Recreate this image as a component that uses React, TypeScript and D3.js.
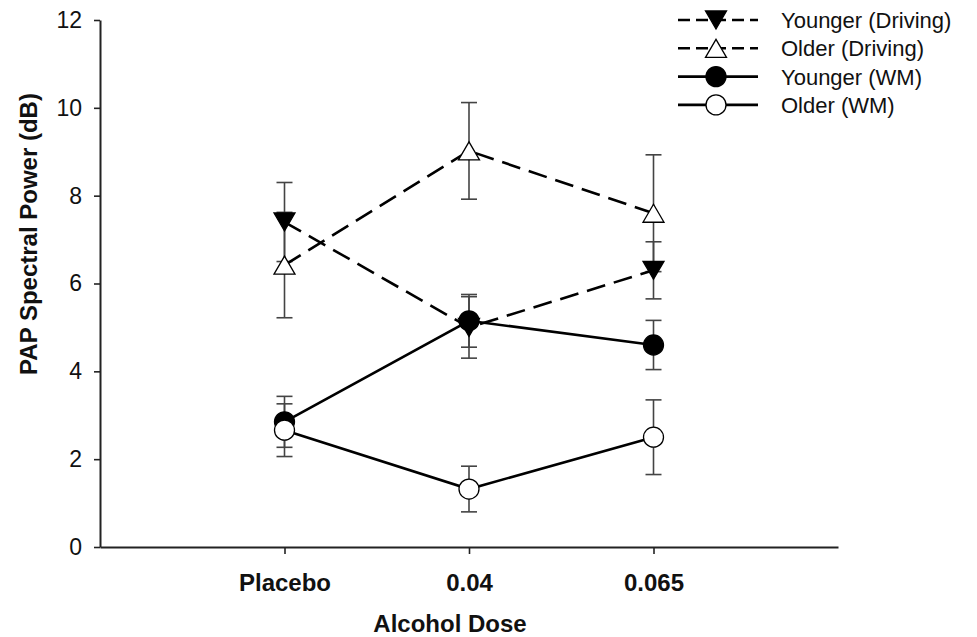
import React, { useRef, useEffect } from "react";
import * as d3 from "d3";

const WIDTH = 977;
const HEIGHT = 637;
const M = { left: 100, right: 139, top: 20, bottom: 90 };

// chart data
const categories = ["Placebo", "0.04", "0.065"];
const yTicks = [0, 2, 4, 6, 8, 10, 12];

const youngerDriving = [7.4, 5.0, 6.3];
const youngerDrivingErr = [0.9, 0.7, 0.65];
const olderDriving = [6.42, 9.02, 7.6];
const olderDrivingErr = [1.2, 1.1, 1.33];
const youngerWM = [2.85, 5.15, 4.6];
const youngerWMErr = [0.58, 0.6, 0.56];
const olderWM = [2.66, 1.32, 2.5];
const olderWMErr = [0.6, 0.52, 0.85];

const seriesNames = ["Younger (Driving)", "Older (Driving)", "Younger (WM)", "Older (WM)"];

const series = [
  { name: seriesNames[0], values: youngerDriving, err: youngerDrivingErr, symbol: "down", fill: "#000", dashed: true },
  { name: seriesNames[1], values: olderDriving, err: olderDrivingErr, symbol: "up", fill: "#fff", dashed: true },
  { name: seriesNames[2], values: youngerWM, err: youngerWMErr, symbol: "circle", fill: "#000", dashed: false },
  { name: seriesNames[3], values: olderWM, err: olderWMErr, symbol: "circle", fill: "#fff", dashed: false },
];

const FONT = "'Liberation Sans', Arial, sans-serif";

function drawSymbol(g, kind, cx, cy, fill) {
  if (kind === "circle") {
    g.append("circle")
      .attr("cx", cx).attr("cy", cy).attr("r", 10)
      .attr("fill", fill).attr("stroke", "#000").attr("stroke-width", 1.3);
  } else {
    const h = 18, w = 21;
    const pts = kind === "up"
      ? [[cx - w / 2, cy + h / 2], [cx + w / 2, cy + h / 2], [cx, cy - h / 2]]
      : [[cx - w / 2, cy - h / 2], [cx + w / 2, cy - h / 2], [cx, cy + h / 2]];
    g.append("polygon")
      .attr("points", pts.map(p => p.join(",")).join(" "))
      .attr("fill", fill).attr("stroke", "#000").attr("stroke-width", 1.3)
      .attr("stroke-linejoin", "miter");
  }
}

export default function App() {
  const svgRef = useRef(null);

  useEffect(() => {
    const svg = d3.select(svgRef.current);
    svg.selectAll("*").remove();

    const x = d3.scaleLinear().domain([0, 4]).range([M.left, WIDTH - M.right]);
    const y = d3.scaleLinear().domain([0, 12]).range([HEIGHT - M.bottom, M.top]);

    // axes
    const gY = svg.append("g").attr("transform", `translate(${M.left},0)`)
      .call(d3.axisLeft(y).tickValues(yTicks).tickSize(6).tickPadding(12).tickSizeOuter(0));
    const gX = svg.append("g").attr("transform", `translate(0,${HEIGHT - M.bottom})`)
      .call(d3.axisBottom(x).tickValues([1, 2, 3]).tickFormat((d) => categories[d - 1])
        .tickSize(7).tickPadding(20).tickSizeOuter(0));

    [gX, gY].forEach(g => {
      g.select(".domain").attr("stroke", "#222").attr("stroke-width", 2);
      g.selectAll(".tick line").attr("stroke", "#222").attr("stroke-width", 1.6);
      g.selectAll("text").attr("fill", "#111").style("font-family", FONT);
    });
    gY.selectAll("text").style("font-size", "23px");
    gX.selectAll("text").style("font-size", "24px").style("font-weight", "bold");

    // axis titles
    svg.append("text")
      .attr("x", 450).attr("y", 632)
      .attr("text-anchor", "middle")
      .style("font-family", FONT).style("font-size", "24px").style("font-weight", "bold")
      .attr("fill", "#111")
      .text("Alcohol Dose");

    svg.append("text")
      .attr("transform", `translate(37,234) rotate(-90)`)
      .attr("text-anchor", "middle")
      .style("font-family", FONT).style("font-size", "24px").style("font-weight", "bold")
      .attr("fill", "#111")
      .text("PAP Spectral Power (dB)");

    const plot = svg.append("g");

    // error bars
    series.forEach(s => {
      s.values.forEach((v, i) => {
        const cx = x(i + 1);
        const top = y(v + s.err[i]);
        const bot = y(v - s.err[i]);
        const g = plot.append("g").attr("stroke", "#444").attr("stroke-width", 1.6);
        g.append("line").attr("x1", cx).attr("x2", cx).attr("y1", top).attr("y2", bot);
        g.append("line").attr("x1", cx - 8).attr("x2", cx + 8).attr("y1", top).attr("y2", top);
        g.append("line").attr("x1", cx - 8).attr("x2", cx + 8).attr("y1", bot).attr("y2", bot);
      });
    });

    // lines
    const line = d3.line().x((d, i) => x(i + 1)).y(d => y(d));
    series.forEach(s => {
      plot.append("path")
        .attr("d", line(s.values))
        .attr("fill", "none")
        .attr("stroke", "#000")
        .attr("stroke-width", 2.6)
        .attr("stroke-dasharray", s.dashed ? "19,9" : null);
    });

    // markers
    series.forEach(s => {
      s.values.forEach((v, i) => drawSymbol(plot, s.symbol, x(i + 1), y(v), s.fill));
    });

    // legend
    const legend = svg.append("g");
    series.forEach((s, i) => {
      const cy = 20 + i * 28.3;
      legend.append("line")
        .attr("x1", 678).attr("x2", 758).attr("y1", cy).attr("y2", cy)
        .attr("stroke", "#000").attr("stroke-width", 2.6)
        .attr("stroke-dasharray", s.dashed ? "12,6" : null);
      drawSymbol(legend, s.symbol, 716, cy, s.fill);
      legend.append("text")
        .attr("x", 781).attr("y", cy + 8)
        .style("font-family", FONT).style("font-size", "22px")
        .attr("fill", "#111")
        .text(s.name);
    });
  }, []);

  return (
    <div style={{ position: "absolute", left: 0, top: 0 }}>
      <svg ref={svgRef} width={WIDTH} height={HEIGHT} style={{ display: "block", background: "#fff" }} />
    </div>
  );
}
